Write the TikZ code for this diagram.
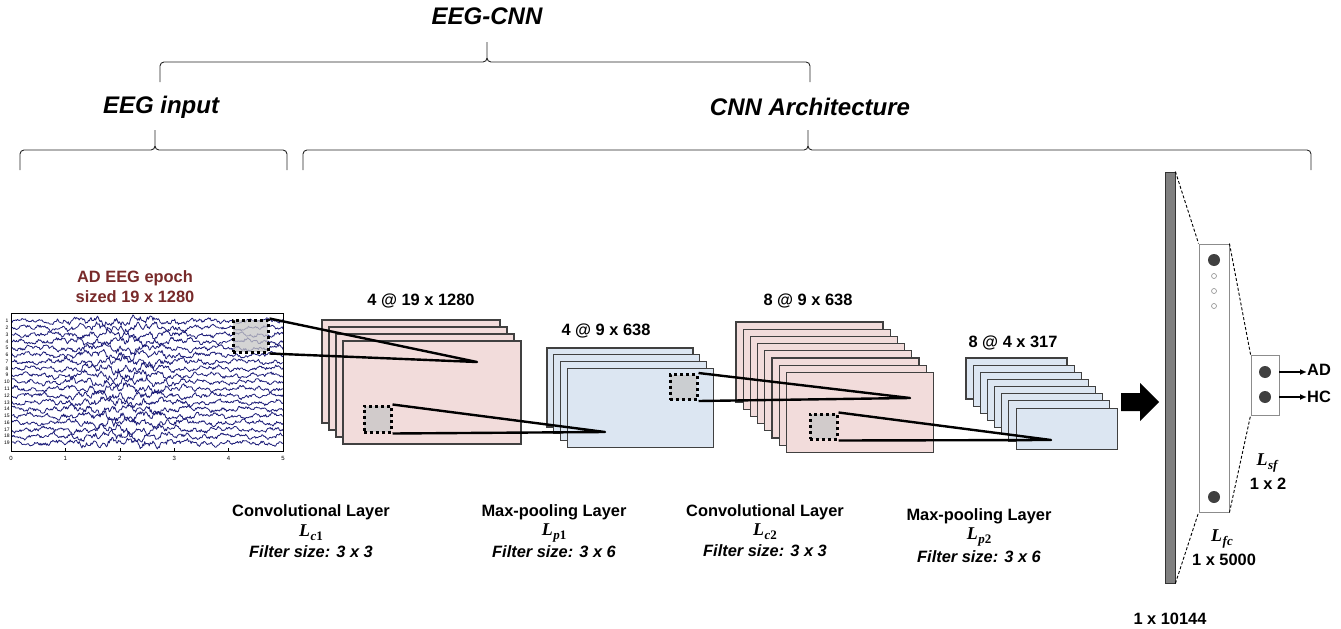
\documentclass[tikz,border=0pt]{standalone}
\usepackage{fontspec}
\setmainfont{Liberation Sans}
\newfontfamily\serifmath{Liberation Serif}
\usetikzlibrary{arrows.meta}
\definecolor{pinkc}{RGB}{242,220,219}
\definecolor{bluec}{RGB}{220,230,242}
\definecolor{eegred}{RGB}{120,42,42}
\definecolor{navy}{RGB}{28,28,120}
\newcommand{\Lsub}[2]{{\serifmath\bfseries\itshape L\kern0.5pt\raisebox{-4pt}{\fontsize{13}{13}\selectfont #1\upshape #2}}}
\newcommand{\mybrace}[6]{% x1, xm, x2, ytip, yline, yend
  \draw[bracestyle] (#1,#6) -- (#1,#5+4) to[out=90,in=180] (#1+4,#5) -- (#2-4,#5)
    to[out=0,in=-90] (#2,#5-4) -- (#2,#4);
  \draw[bracestyle] (#2,#5-4) to[out=-90,in=180] (#2+4,#5) -- (#3-4,#5)
    to[out=0,in=90] (#3,#5+4) -- (#3,#6);}
\newcommand{\mystack}[8]{% x0,y0,w,h,d,n,style,name
  \foreach \i in {0,...,#6}{
    \draw[#7] (#1+\i*#5,#2+\i*#5) rectangle ++(#3,#4);}
  \coordinate (#8) at (#1+#6*#5,#2+#6*#5);}
\begin{document}
\begin{tikzpicture}[x=1pt,y=-1pt,
  lbl/.style={font=\fontsize{16.4}{19}\selectfont\bfseries, inner sep=0pt},
  lbli/.style={font=\fontsize{16.4}{19}\selectfont\bfseries\itshape, inner sep=0pt},
  mth/.style={font=\fontsize{18}{20}\selectfont, inner sep=0pt},
  ttl/.style={font=\fontsize{24}{28}\selectfont\bfseries\itshape, inner sep=0pt},
  bracestyle/.style={line width=0.9pt, draw=black!85},
  pinkmap/.style={draw=black!75, fill=pinkc, line width=1.1pt},
  bluemap/.style={draw=black!75, fill=bluec, line width=1.1pt},
  conn/.style={line width=2.4pt, black, line join=round},
  window/.style={draw=black, fill=gray!45, fill opacity=0.75, draw opacity=1, line width=3pt,
     dash pattern=on 3pt off 3pt, inner sep=0pt},
  trace/.style={draw=navy, line width=0.8pt, line join=round},
  bigdot/.style={circle, fill=black!75, minimum size=12pt, inner sep=0pt},
  smalldot/.style={circle, draw=black!45, line width=0.6pt, minimum size=5pt, inner sep=0pt},
  dashc/.style={line width=0.9pt, dash pattern=on 3pt off 2pt, black},
  outarrow/.style={line width=1.8pt, -{Latex[length=7pt,width=6pt]}},
]
\useasboundingbox (0,0) rectangle (1341,629);

% ---------- titles and braces ----------
\node[ttl] (tEEGCNN) at (487,16) {EEG-CNN};
\mybrace{160}{487}{810}{42}{62}{82}
\node[ttl] (tEEGin) at (161,107) {EEG input};
\node[ttl] (tCNN) at (810,107) {CNN Architecture};
\mybrace{20}{155}{287}{130}{150}{170}
\mybrace{303}{808}{1311}{130}{150}{170}

% ---------- EEG input ----------
\node[lbl, text=eegred, align=center] (eegtitle) at (135,287) {AD EEG epoch\\[1pt]sized 19 x 1280};
\pgfmathsetseed{11}
\begin{scope}
\clip (11,313) rectangle (283,451);
\foreach \k in {1,...,19}{
  \pgfmathsetmacro\yo{321+(\k-1)*6.78}
  \pgfmathsetmacro\pa{360*rnd}
  \pgfmathsetmacro\pb{360*rnd}
  \pgfmathsetmacro\pc{360*rnd}
  \draw[trace] plot[domain=11:283, samples=300]
    (\x, {\yo + (1+1.0*exp(-((\x-125)/55)^2))*(1.1*sin(19*\x+\pa) + 0.8*sin(43*\x+\pb) + 1.2*sin(6*\x+\pc) + 1.1*rand)});
}
\end{scope}
\draw[line width=0.7pt] (11,313) rectangle (283,451);
\foreach \k in {1,...,19}{
  \node[font=\fontsize{5}{5}\selectfont, inner sep=0pt] (ch\k) at (7,{321+(\k-1)*6.78}) {\k};
}
\foreach \t/\xx in {0/11,1/65.4,2/119.8,3/174.2,4/228.6,5/283}{
  \draw[line width=0.5pt] (\xx,451) -- (\xx,448);
  \node[font=\fontsize{6}{6}\selectfont, inner sep=0pt] (tk\t) at (\xx,458) {\t};
}

% ---------- feature maps ----------
\mystack{322}{320}{178}{103}{7}{3}{pinkmap}{c1f}
\mystack{547}{348}{146}{79}{6.7}{3}{bluemap}{p1f}
\mystack{736}{322}{147}{80}{7.2}{7}{pinkmap}{c2f}
\mystack{966}{358}{101}{41}{7.15}{7}{bluemap}{p2f}

\node[lbl] (lc1) at (421,301) {4 @ 19 x 1280};
\node[lbl] (lp1) at (606,331) {4 @ 9 x 638};
\node[lbl] (lc2) at (808,301) {8 @ 9 x 638};
\node[lbl] (lp2) at (1013,343) {8 @ 4 x 317};

% windows and target points
\node[window, minimum width=35pt, minimum height=32pt] (w0) at (250.5,336) {};
\node[window, minimum width=27pt, minimum height=26pt] (w1) at (377.5,419) {};
\node[window, minimum width=27pt, minimum height=25pt] (w2) at (683.5,387) {};
\node[window, minimum width=27pt, minimum height=25pt] (w3) at (823.5,426.5) {};
\coordinate (t1) at (477,362);
\coordinate (t2) at (605,432);
\coordinate (t3) at (910,398);
\coordinate (t4) at (1051,440);
\draw[conn] (w0.north east) -- (t1) -- (w0.south east);
\draw[conn] (w1.north east) -- (t2) -- (w1.south east);
\draw[conn] (w2.north east) -- (t3) -- (w2.south east);
\draw[conn] (w3.north east) -- (t4) -- (w3.south east);

% ---------- layer captions ----------
\node[lbl] (cap1) at (311,512) {Convolutional Layer};
\node[mth] (m1) at (311,533) {\Lsub{c}{1}};
\node[lbli] (f1) at (311,552) {Filter size: 3 x 3};
\node[lbl] (cap2) at (554,512) {Max-pooling Layer};
\node[mth] (m2) at (554,533) {\Lsub{p}{1}};
\node[lbli] (f2) at (554,552) {Filter size: 3 x 6};
\node[lbl] (cap3) at (765,512) {Convolutional Layer};
\node[mth] (m3) at (765,532) {\Lsub{c}{2}};
\node[lbli] (f3) at (765,551) {Filter size: 3 x 3};
\node[lbl] (cap4) at (979,516) {Max-pooling Layer};
\node[mth] (m4) at (979,537) {\Lsub{p}{2}};
\node[lbli] (f4) at (979,557) {Filter size: 3 x 6};

% ---------- block arrow ----------
\fill[black] (1121,393) -- (1140,393) -- (1140,383) -- (1159,402) -- (1140,421) -- (1140,411) -- (1121,411) -- cycle;

% ---------- flatten / fc / softmax ----------
\node[draw=black!80, fill=black!50, line width=0.8pt, minimum width=10pt, minimum height=411pt, inner sep=0pt] (flat) at (1170,377.5) {};
\node[draw=black!45, fill=white, line width=0.9pt, minimum width=30pt, minimum height=268pt, inner sep=0pt] (fc) at (1214,378) {};
\node[draw=black!45, fill=white, line width=0.9pt, minimum width=28pt, minimum height=60pt, inner sep=0pt] (sf) at (1265,385) {};
\draw[dashc] (flat.north east) -- (fc.north west);
\draw[dashc] (flat.south east) -- (fc.south west);
\draw[dashc] (fc.north east) -- (sf.north west);
\draw[dashc] (fc.south east) -- (sf.south west);

\node[bigdot] (fcd1) at (1214,260) {};
\node[smalldot] (fcs1) at (1214,276) {};
\node[smalldot] (fcs2) at (1214,291) {};
\node[smalldot] (fcs3) at (1214,306) {};
\node[bigdot] (fcd2) at (1214,497) {};
\node[bigdot] (sfd1) at (1265,372) {};
\node[bigdot] (sfd2) at (1265,397) {};

\node[lbl, anchor=west] (AD) at (1307,370) {AD};
\node[lbl, anchor=west] (HC) at (1307,397) {HC};
\draw[outarrow] (sf.east |- sfd1) -- (AD.west |- sfd1);
\draw[outarrow] (sf.east |- sfd2) -- (HC.west |- sfd2);

\node[mth] (msf) at (1267,463) {\Lsub{sf}{}};
\node[lbl] (dsf) at (1268,484) {1 x 2};
\node[mth] (mfc) at (1222,539) {\Lsub{fc}{}};
\node[lbl] (dfc) at (1224,560) {1 x 5000};
\node[lbl] (dflat) at (1170,619) {1 x 10144};
\end{tikzpicture}
\end{document}
